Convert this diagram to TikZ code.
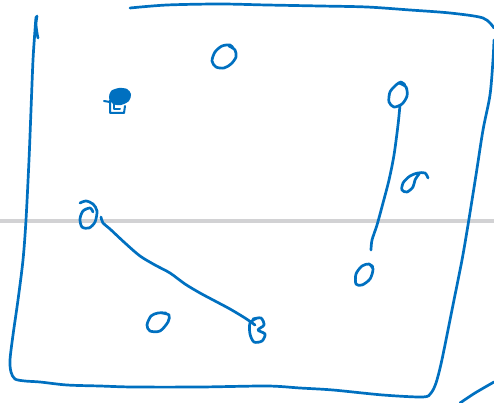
\documentclass[tikz,border=0pt]{standalone}
\definecolor{ink}{RGB}{0,112,192}
\definecolor{rule}{RGB}{210,210,212}
\tikzset{
  pen/.style={draw=ink, line width=2.7pt, line cap=round, line join=round},
  ruleline/.style={draw=rule, line width=3.6pt},
}
\begin{document}
\begin{tikzpicture}[x=1pt,y=-1pt]
\useasboundingbox (0,0) rectangle (494,403);
% gray rule
\coordinate (rl) at (0,221);
\coordinate (rr) at (494,221);
\draw[ruleline] (rl) -- (rr);
% left hook at top
\draw[pen] plot[smooth] coordinates {(38,38) (37,33) (36,24) (37,16)};
% main frame
\draw[pen] plot[smooth] coordinates {(36,17) (35,30) (33,60) (31,110) (29,160) (26,220) (23,260) (18,300) (13,335) (10,360) (11,372) (15,379) (25,381) (40,382) (67,385) (100,386) (133,387) (200,387) (267,386) (300,388) (333,390) (383,395) (423,397) (431,393) (436,383) (441,364) (447,335) (454,300) (462,260) (468,225) (476,175) (483,130) (490,95) (493,60) (494,40)};
\draw[pen] plot[smooth] coordinates {(130,8) (167,5) (220,4) (267,5) (320,6) (367,7) (410,10) (450,13) (483,18) (494,28)};
\draw[pen] plot[smooth] coordinates {(460,403) (475,393) (494,382)};
% loops
\draw[pen] plot[smooth] coordinates {(229,46) (235,50) (236,57) (231,64) (224,68) (216,67) (212,61) (215,52) (222,46) (230,45) (233,48)};
\draw[pen] plot[smooth] coordinates {(399,83) (406,87) (407,96) (402,104) (394,107) (389,102) (390,92) (396,85) (401,82) (405,85)};
\draw[pen] plot[smooth] coordinates {(419,174) (415,180) (413,187) (407,192) (402,190) (403,183) (410,176) (418,173) (425,173) (428,178)};
\draw[pen] plot[smooth] coordinates {(80,203) (86,201) (93,204) (97,211) (95,222) (89,228) (82,227) (80,219) (83,211) (90,208) (93,212)};
\draw[pen] plot[smooth] coordinates {(369,264) (373,269) (370,279) (362,285) (356,284) (356,274) (362,266) (369,264) (373,267)};
\draw[pen] plot[smooth] coordinates {(162,313) (169,315) (168,322) (160,331) (150,331) (147,325) (151,316) (158,313) (166,313)};
\draw[pen] plot[smooth] coordinates {(253,319) (261,318) (264,325) (258,330) (265,334) (262,341) (254,342) (250,334) (250,323) (257,318)};
% blob
\fill[ink] plot[smooth cycle] coordinates {(111,91) (119,88) (127,89) (131,94) (129,101) (121,105) (113,104) (109,98)};
\draw[pen, line width=2pt] (104,101) -- (110,102);
\draw[pen, line width=2pt] (110,100) -- (110,113) -- (124,113) -- (125,106);
\draw[pen, line width=2pt] (114,104) -- (114,109) -- (120,109);
% connectors
\coordinate (c1) at (101,217);
\coordinate (c2) at (255,325);
\draw[pen] plot[smooth] coordinates {(c1) (103,223) (110,229) (125,243) (140,256) (155,265) (170,273) (185,284) (200,293) (215,301) (230,309) (245,318) (c2)};
\coordinate (d1) at (400,105);
\coordinate (d2) at (371,250);
\draw[pen] plot[smooth] coordinates {(d1) (398,125) (394,155) (389,180) (383,203) (377,225) (372,240) (d2)};
\end{tikzpicture}
\end{document}
